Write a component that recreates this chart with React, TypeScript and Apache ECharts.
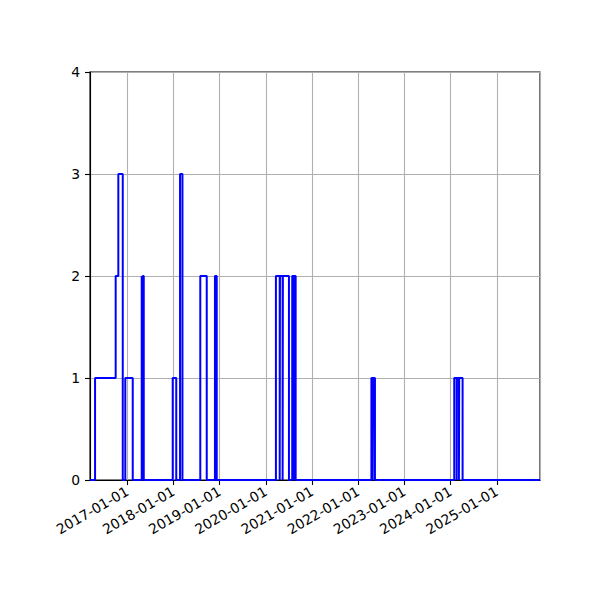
import React, { useEffect, useRef } from "react";
import * as echarts from "echarts";

// Step change points: from each date on, the series takes the given value
const changeDates: string[] = [
  "2016-03-12",
  "2016-04-21", "2016-10-01", "2016-10-22", "2016-11-26", "2016-12-16", "2017-02-13",
  "2017-04-25", "2017-04-29", "2017-05-03", "2017-05-11",
  "2017-12-26", "2018-01-23",
  "2018-02-22", "2018-03-13",
  "2018-08-01", "2018-09-21",
  "2018-11-25", "2018-12-09",
  "2020-03-21", "2020-04-20", "2020-04-22", "2020-05-13", "2020-05-15", "2020-07-02",
  "2020-07-28", "2020-08-08", "2020-08-10", "2020-08-24",
  "2022-04-15", "2022-04-25", "2022-04-29", "2022-05-13",
  "2024-01-30", "2024-02-18", "2024-02-20", "2024-03-07", "2024-03-09", "2024-04-05",
  "2025-12-08",
];
const changeValues: number[] = [
  0,
  1, 2, 3, 0, 1, 0,
  2, 0, 2, 0,
  1, 0,
  3, 0,
  2, 0,
  2, 0,
  2, 0, 2, 0, 2, 0,
  2, 0, 2, 0,
  1, 0, 1, 0,
  1, 0, 1, 0, 1, 0,
  0,
];
const xMin = "2016-03-12";
const xMax = "2025-12-08";
const yTicks: number[] = [0, 1, 2, 3, 4];

const pad = (n: number) => (n < 10 ? "0" + n : "" + n);

export default function App() {
  const ref = useRef<HTMLDivElement>(null);
  useEffect(() => {
    if (!ref.current) return;
    const chart = echarts.init(ref.current, null, { renderer: "svg" });
    const data = changeDates.map((d, i) => [d, changeValues[i]]);
    const yearMs = 365 * 24 * 3600 * 1000;
    chart.setOption({
      animation: false,
      backgroundColor: "#ffffff",
      textStyle: { fontFamily: "DejaVu Sans" },
      grid: {
        left: 90,
        right: 60,
        top: 72,
        bottom: 120,
        show: true,
        borderColor: "#000000",
        borderWidth: 1.1,
        backgroundColor: "transparent",
      },
      xAxis: {
        type: "time",
        min: xMin,
        max: xMax,
        minInterval: yearMs,
        maxInterval: yearMs * 1.01,
        axisLine: { show: true, lineStyle: { color: "#000000", width: 1.1 } },
        axisTick: { show: true, length: 5, lineStyle: { color: "#000000", width: 1.1 } },
        splitLine: { show: true, lineStyle: { color: "#b0b0b0", width: 1.1 } },
        axisLabel: {
          show: true,
          rotate: 30,
          margin: 10,
          color: "#000000",
          fontSize: 13.9,
          fontFamily: "DejaVu Sans",
          showMinLabel: false,
          showMaxLabel: false,
          formatter: (v: number) => {
            const d = new Date(v);
            return `${d.getFullYear()}-${pad(d.getMonth() + 1)}-${pad(d.getDate())}`;
          },
        },
      },
      yAxis: {
        type: "value",
        min: yTicks[0],
        max: yTicks[yTicks.length - 1],
        interval: 1,
        axisLine: { show: true, lineStyle: { color: "#000000", width: 1.1 } },
        axisTick: { show: true, length: 5, lineStyle: { color: "#000000", width: 1.1 } },
        splitLine: { show: true, lineStyle: { color: "#b0b0b0", width: 1.1 } },
        axisLabel: {
          margin: 10,
          color: "#000000",
          fontSize: 13.9,
          fontFamily: "DejaVu Sans",
        },
      },
      series: [
        {
          type: "line",
          step: "end",
          data,
          symbol: "none",
          lineStyle: { color: "#0000ff", width: 2 },
          clip: true,
        },
      ],
    });
    return () => chart.dispose();
  }, []);
  return (
    <div
      ref={ref}
      style={{ position: "fixed", left: 0, top: 0, width: 600, height: 600 }}
    />
  );
}
